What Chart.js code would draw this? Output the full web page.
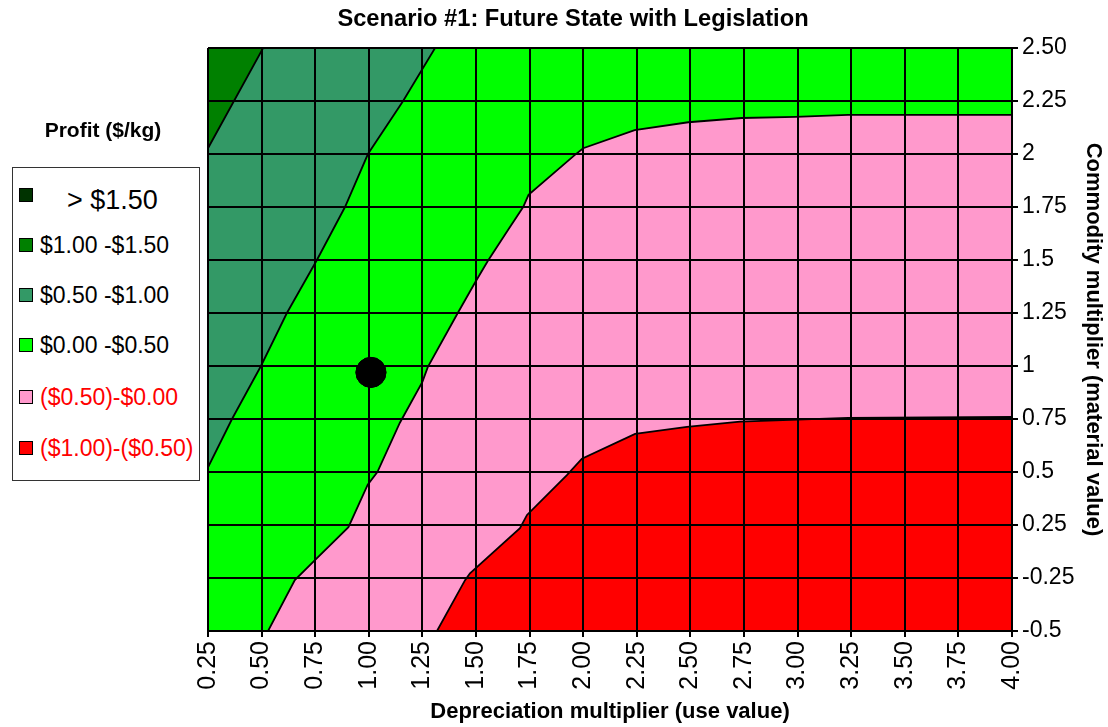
<!DOCTYPE html>
<html>
<head>
<meta charset="utf-8">
<script src="https://cdn.jsdelivr.net/npm/chart.js@4.4.1/dist/chart.umd.min.js"></script>
<style>
  html, body { margin: 0; padding: 0; background: #fff; }
  #wrap { position: relative; width: 1108px; height: 727px; font-family: "Liberation Sans", Arial, sans-serif; color: #000; }
  #chart { position: absolute; left: 0; top: 0; }
  .legend-title { position: absolute; left: 0; width: 206px; top: 116px; text-align: center; font-weight: bold; font-size: 21px; line-height: 28px; }
  .legend-box { position: absolute; left: 12px; top: 167px; width: 188px; height: 314px; border: 1px solid #333; box-sizing: border-box; background: #fff; }
  .legend-row { position: absolute; white-space: nowrap; }
  .legend-sw { position: absolute; width: 14px; height: 14px; border: 1px solid #000; box-sizing: border-box; }
</style>
</head>
<body>
<div id="wrap">
  <canvas id="chart" width="1108" height="727"></canvas>
  <div class="legend-title">Profit ($/kg)</div>
  <div class="legend-box"></div>
</div>
<script>
// Axis ticks: depreciation multiplier (x) and commodity multiplier rows (y, evenly spaced rows)
const xTicks = [0.25, 0.50, 0.75, 1.00, 1.25, 1.50, 1.75, 2.00, 2.25, 2.50, 2.75, 3.00, 3.25, 3.50, 3.75, 4.00];
const yTickLabels = ['-0.5', '-0.25', '0.25', '0.5', '0.75', '1', '1.25', '1.5', '1.75', '2', '2.25', '2.50'];

// Profit bands
const bandLabels = ['> $1.50', '$1.00 -$1.50', '$0.50 -$1.00', '$0.00 -$0.50', '($0.50)-$0.00', '($1.00)-($0.50)'];
const bandColors = ['#003300', '#008000', '#339966', '#00FF00', '#FF99CC', '#FF0000'];
const bandTextColors = ['#000', '#000', '#000', '#000', '#FF0000', '#FF0000'];

// Contour lines as [depreciation, commodity row] pairs
const edge100 = [[0.507, 11], [0.25, 9.11]];
const edge050 = [[1.309, 11], [1.16, 10], [0.996, 9], [0.889, 8], [0.758, 7], [0.618, 6], [0.497, 5], [0.362, 4], [0.25, 3.09]];
const edge000 = [[4.0, 9.74], [3.235, 9.74], [2.99, 9.70], [2.74, 9.68], [2.49, 9.60], [2.24, 9.45], [2.0, 9.11], [1.96, 8.98],
                 [1.745, 8.23], [1.72, 8.0], [1.65, 7.57], [1.555, 6.98], [1.495, 6.57], [1.415, 6.0], [1.275, 4.98], [1.25, 4.7],
                 [1.145, 3.93], [1.04, 3.0], [0.995, 2.76], [0.905, 1.96], [0.75, 1.34], [0.655, 0.96], [0.53, 0]];
const edgeNeg050 = [[1.318, 0], [1.449, 0.96], [1.472, 1.09], [1.705, 1.94], [1.738, 2.19], [1.924, 2.94], [1.994, 3.25],
                    [2.242, 3.72], [2.484, 3.85], [2.731, 3.95], [3.235, 4.02], [4.0, 4.04]];

// Current operating point
const basePoint = [1.01, 4.88];

const xMin = 0.25, xMax = 4.0, yMin = 0, yMax = 11;

const FONT = '"Liberation Sans", Arial, sans-serif';
Chart.defaults.font.family = FONT;
Chart.defaults.color = '#000';

const toPts = arr => arr.map(([x, y]) => ({ x, y }));

function region(points, color, order) {
  return {
    type: 'scatter',
    data: toPts(points),
    showLine: true,
    fill: 'shape',
    backgroundColor: color,
    borderColor: '#000',
    borderWidth: 1.8,
    pointRadius: 0,
    tension: 0,
    order
  };
}

const datasets = [
  region([[xMin, yMin], [xMax, yMin], [xMax, yMax], [xMin, yMax]], bandColors[3], 6),
  region([[xMin, yMax], ...edge050], bandColors[2], 5),
  region([[xMin, yMax], ...edge100], bandColors[1], 4),
  region([...edge000, [xMax, yMin]], bandColors[4], 3),
  region([...edgeNeg050, [xMax, yMin]], bandColors[5], 2),
  {
    type: 'scatter',
    data: toPts([basePoint]),
    pointRadius: 15,
    pointBackgroundColor: '#000',
    pointBorderColor: '#000',
    pointBorderWidth: 1,
    showLine: false,
    order: 0
  }
];
const DOT_INDEX = datasets.length - 1;

// Keep the operating point above the grid lines
const dotOnTop = {
  id: 'dotOnTop',
  afterDraw(chart) {
    const meta = chart.getDatasetMeta(DOT_INDEX);
    meta.data.forEach(p => p.draw(chart.ctx, chart.chartArea));
  }
};

new Chart(document.getElementById('chart'), {
  type: 'scatter',
  data: { datasets },
  plugins: [dotOnTop],
  options: {
    responsive: false,
    animation: false,
    devicePixelRatio: 1,
    events: [],
    layout: { padding: { left: 38, right: 0, top: 0, bottom: 0 } },
    plugins: {
      legend: { display: false },
      tooltip: { enabled: false },
      title: {
        display: true,
        text: 'Scenario #1: Future State with Legislation',
        font: { size: 23.7, weight: 'bold' },
        color: '#000',
        padding: { top: 5, bottom: 14.6 }
      }
    },
    scales: {
      x: {
        type: 'linear',
        position: 'bottom',
        min: xMin,
        max: xMax,
        afterBuildTicks: s => { s.ticks = xTicks.map(v => ({ value: v })); },
        afterFit: s => { s.height = 96; },
        ticks: {
          autoSkip: false,
          minRotation: 90,
          maxRotation: 90,
          padding: 4,
          font: { size: 25 },
          color: '#000',
          callback: v => Number(v).toFixed(2)
        },
        grid: { color: '#000', lineWidth: 2, tickLength: 6, z: 1 },
        border: { color: '#000', width: 2, z: 2 },
        title: {
          display: true,
          text: 'Depreciation multiplier (use value)',
          font: { size: 22, weight: 'bold' },
          color: '#000',
          padding: { top: 0, bottom: 2 }
        }
      },
      y: {
        type: 'linear',
        position: 'right',
        min: yMin,
        max: yMax,
        afterFit: s => { s.width = 96; },
        ticks: {
          stepSize: 1,
          autoSkip: false,
          padding: 4,
          font: { size: 23 },
          color: '#000',
          callback: v => yTickLabels[v]
        },
        grid: { color: '#000', lineWidth: 2, tickLength: 6, z: 1 },
        border: { color: '#000', width: 2, z: 2 },
        title: {
          display: true,
          text: 'Commodity multiplier (material value)',
          font: { size: 22, weight: 'bold' },
          color: '#000',
          padding: { top: 2, bottom: 0 }
        }
      },
      yPad: {
        type: 'linear',
        position: 'left',
        display: true,
        grid: { display: false, drawTicks: false },
        border: { display: false },
        ticks: { display: false },
        afterFit: s => { s.width = 170; }
      }
    }
  }
});

// Legend for the profit bands
const legendRowY = [200, 245, 295, 345, 397, 448];
const wrap = document.getElementById('wrap');
bandLabels.forEach((label, i) => {
  const size = i === 0 ? 27 : 23;
  const sw = document.createElement('div');
  sw.className = 'legend-sw';
  sw.style.left = '19px';
  sw.style.top = (i === 0 ? 188 : legendRowY[i] - 7) + 'px';
  sw.style.background = bandColors[i];
  wrap.appendChild(sw);
  const row = document.createElement('div');
  row.className = 'legend-row';
  row.textContent = label;
  row.style.left = (i === 0 ? 67 : 40) + 'px';
  row.style.fontSize = size + 'px';
  row.style.lineHeight = Math.round(size * 1.2) + 'px';
  row.style.top = (legendRowY[i] - Math.round(size * 1.2) / 2) + 'px';
  row.style.color = bandTextColors[i];
  wrap.appendChild(row);
});
</script>
</body>
</html>
